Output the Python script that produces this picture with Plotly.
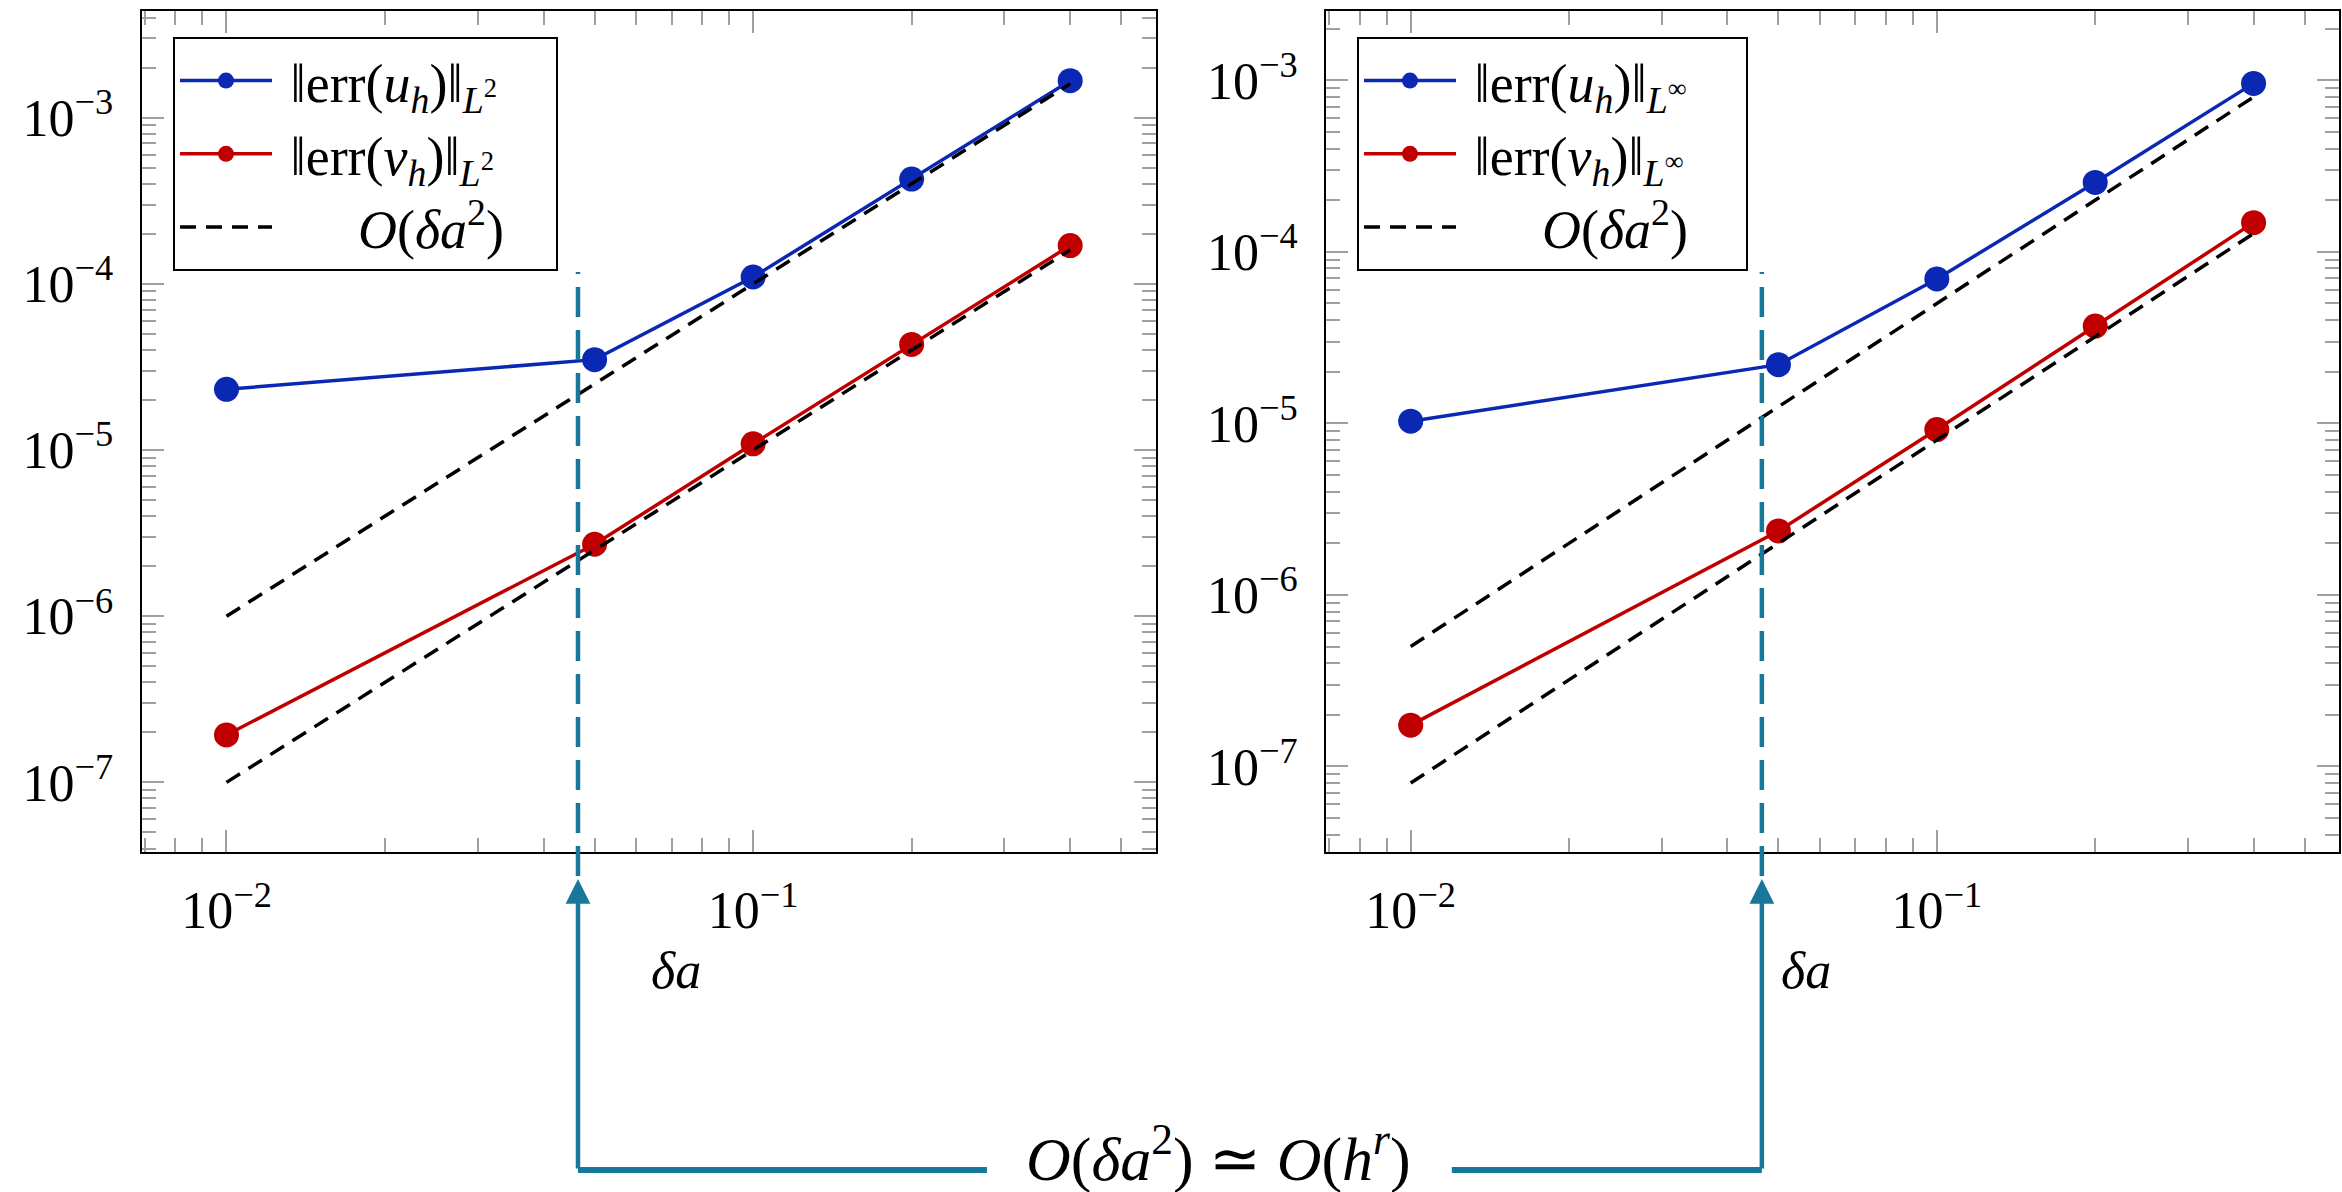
import math
import plotly.graph_objects as go

# step sizes and measured errors
delta_a = [0.01, 0.05, 0.1, 0.2, 0.4]
err_u_L2 = [2.32e-5, 3.5e-5, 1.10e-4, 4.27e-4, 1.67e-3]
err_v_L2 = [1.93e-7, 2.71e-6, 1.09e-5, 4.32e-5, 1.70e-4]
err_u_Linf = [1.03e-5, 2.2e-5, 6.95e-5, 2.54e-4, 9.6e-4]
err_v_Linf = [1.74e-7, 2.36e-6, 9.2e-6, 3.69e-5, 1.48e-4]

# second-order reference slopes
ref_L2_upper = [1.0e-6, 2.5e-5, 1.0e-4, 4.0e-4, 1.6e-3]
ref_L2_lower = [1.0e-7, 2.5e-6, 1.0e-5, 4.0e-5, 1.6e-4]
ref_Linf_upper = [5.0e-7, 1.25e-5, 5.0e-5, 2.0e-4, 8.0e-4]
ref_Linf_lower = [8.0e-8, 2.0e-6, 8.0e-6, 3.2e-5, 1.28e-4]

# threshold where the spatial error saturates
delta_a_switch = 0.0465

x_tickvals = [1e-2, 1e-1]
x_ticktext = ["10<sup>−2</sup>", "10<sup>−1</sup>"]
y_tickvals = [1e-7, 1e-6, 1e-5, 1e-4, 1e-3]
y_ticktext = ["10<sup>−7</sup>", "10<sup>−6</sup>", "10<sup>−5</sup>", "10<sup>−4</sup>", "10<sup>−3</sup>"]

BLUE = "#0a28b4"
RED = "#c00000"
TEAL = "#17789a"
FONT = "Liberation Serif"
DASH_REF = "16px,10px"
NBSP = "\u00a0"

fig = go.Figure()


def add_panel(xa, ya, legend, u, v, upper, lower, norm):
    tail = NBSP * 4
    fig.add_trace(go.Scatter(
        x=delta_a, y=u, mode="lines+markers", xaxis=xa, yaxis=ya, legend=legend,
        name=NBSP + "‖err(<i>u</i><sub><i>h</i></sub>)‖<sub><i>L</i><sup>" + norm + "</sup></sub>" + tail,
        line=dict(color=BLUE, width=3.5), marker=dict(color=BLUE, size=25),
        legendgroup=legend + "u"))
    fig.add_trace(go.Scatter(
        x=delta_a, y=v, mode="lines+markers", xaxis=xa, yaxis=ya, legend=legend,
        name=NBSP + "‖err(<i>v</i><sub><i>h</i></sub>)‖<sub><i>L</i><sup>" + norm + "</sup></sub>" + tail,
        line=dict(color=RED, width=3.5), marker=dict(color=RED, size=25),
        legendgroup=legend + "v"))
    fig.add_trace(go.Scatter(
        x=delta_a, y=upper, mode="lines", xaxis=xa, yaxis=ya, legend=legend,
        name=NBSP * 6 + "<i>O</i>(<i>δa</i><sup>2</sup>)",
        line=dict(color="black", width=3.5, dash=DASH_REF),
        legendgroup=legend + "o"))
    fig.add_trace(go.Scatter(
        x=delta_a, y=lower, mode="lines", xaxis=xa, yaxis=ya, showlegend=False,
        line=dict(color="black", width=3.5, dash=DASH_REF),
        legendgroup=legend + "o"))


add_panel("x", "y", "legend", err_u_L2, err_v_L2, ref_L2_upper, ref_L2_lower, "2")
add_panel("x2", "y2", "legend2", err_u_Linf, err_v_Linf, ref_Linf_upper, ref_Linf_lower, "∞")

W, H = 2342, 1192
x_dom_left = [141.7 / W, 1156 / W]
x_dom_right = [1326 / W, 2339.3 / W]
y_dom = [1 - 852 / H, 1 - 10.7 / H]
x_range = [-2.161, -0.235]


def minor_vals(lo, hi):
    vals = []
    for e in range(math.floor(lo) - 1, math.ceil(hi) + 1):
        for m in range(2, 10):
            v = m * 10 ** e
            if lo <= math.log10(v) <= hi:
                vals.append(v)
    return vals


def axis_style(rng, tickvals, ticktext, domain, standoff):
    return dict(
        type="log", range=rng, domain=domain,
        showline=True, linecolor="black", linewidth=2, mirror="allticks",
        ticks="inside", ticklen=22, tickwidth=1.5, tickcolor="#a0a0a0",
        tickvals=tickvals, ticktext=ticktext, ticklabelstandoff=standoff,
        tickfont=dict(family=FONT, size=52, color="black"),
        showgrid=False, zeroline=False,
        minor=dict(tickmode="array", tickvals=minor_vals(*rng), ticks="inside",
                   ticklen=14, tickwidth=1.5, tickcolor="#a0a0a0", showgrid=False),
    )


legend_style = dict(
    bgcolor="white", bordercolor="black", borderwidth=2,
    font=dict(family=FONT, size=54, color="black"),
    xanchor="left", yanchor="top", itemwidth=92, tracegroupgap=0,
    traceorder="grouped",
)

fig.update_layout(
    width=W, height=H,
    margin=dict(l=0, r=0, t=0, b=0),
    paper_bgcolor="white", plot_bgcolor="white",
    font=dict(family=FONT, color="black"),
    xaxis=axis_style(x_range, x_tickvals, x_ticktext, x_dom_left, 12),
    yaxis=axis_style([-7.419, -2.356], y_tickvals, y_ticktext, y_dom, 16),
    xaxis2=axis_style(x_range, x_tickvals, x_ticktext, x_dom_right, 12),
    yaxis2=axis_style([-7.499, -2.594], y_tickvals, y_ticktext, y_dom, 16),
    legend=dict(x=173 / W, y=1 - 37 / H, **legend_style),
    legend2=dict(x=1357 / W, y=1 - 37 / H, **legend_style),
)
fig.layout.yaxis2.anchor = "x2"
fig.layout.xaxis2.anchor = "y2"

# axis titles
for dom in (x_dom_left, x_dom_right):
    fig.add_annotation(xref="paper", yref="paper", x=(dom[0] + dom[1]) / 2, y=1 - 970 / H,
                       text="<i>δa</i>", showarrow=False, yanchor="middle",
                       font=dict(family=FONT, size=52, color="black"))

# marker of the saturation threshold and the connecting arrows
x_left_text_end = 0.278
x_right_text_start = 0.01197
for xr, x_far in (("x", x_left_text_end), ("x2", x_right_text_start)):
    fig.add_shape(type="line", xref=xr, yref="paper",
                  x0=delta_a_switch, x1=delta_a_switch, y0=1 - 876 / H, y1=1 - 272 / H,
                  line=dict(color=TEAL, width=4.5, dash="30px,13px"), layer="above")
    fig.add_annotation(xref=xr, yref="paper", x=math.log10(delta_a_switch), y=1 - 879 / H,
                       axref="pixel", ayref="pixel", ax=0, ay=1170 - 879, text="",
                       showarrow=True, arrowhead=2, arrowsize=1.1, arrowwidth=4.5,
                       arrowcolor=TEAL, standoff=0, startstandoff=0, font=dict(size=1))
    fig.add_shape(type="line", xref=xr, yref="paper",
                  x0=delta_a_switch, x1=x_far, y0=1 - 1170 / H, y1=1 - 1170 / H,
                  line=dict(color=TEAL, width=6), layer="above")

fig.add_annotation(xref="paper", yref="paper", x=1218 / W, y=1 - 1154 / H,
                   text="<i>O</i>(<i>δa</i><sup>2</sup>) ≃ <i>O</i>(<i>h</i><sup><i>r</i></sup>)",
                   showarrow=False, yanchor="middle",
                   font=dict(family=FONT, size=62, color="black"))

fig.write_html("out.html")
